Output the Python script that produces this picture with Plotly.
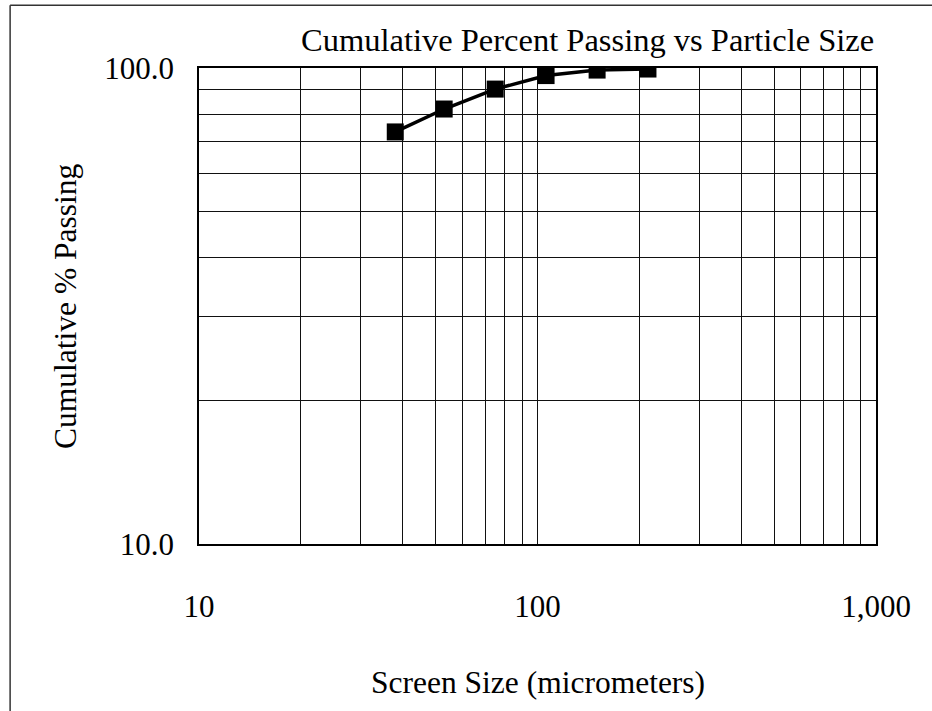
import plotly.graph_objects as go

# Data
screen_size_um = [38, 53, 75, 106, 150, 212]
cum_pct_passing = [73.4, 82.0, 90.3, 96.4, 99.0, 99.5]

x_tick_vals = [10, 20, 30, 40, 50, 60, 70, 80, 90, 100, 200, 300, 400, 500, 600, 700, 800, 900, 1000]
x_tick_text = ["10", "", "", "", "", "", "", "", "", "100", "", "", "", "", "", "", "", "", "1,000"]
y_tick_vals = [10, 20, 30, 40, 50, 60, 70, 80, 90, 100]
y_tick_text = ["10.0", "", "", "", "", "", "", "", "", "100.0"]

title_text = "Cumulative Percent Passing vs Particle Size"
x_title = "Screen Size (micrometers)"
y_title = "Cumulative % Passing"

FONT = "Liberation Serif, Times New Roman, serif"

fig = go.Figure()
fig.add_trace(go.Scatter(
    x=screen_size_um, y=cum_pct_passing,
    mode="lines+markers",
    line=dict(color="black", width=3.5),
    marker=dict(symbol="square", size=17, color="black"),
    showlegend=False,
))

fig.update_layout(
    width=932, height=711,
    margin=dict(l=199, r=56, t=68, b=167),
    paper_bgcolor="white", plot_bgcolor="white",
    font=dict(family=FONT, color="black", size=31),
    xaxis=dict(
        type="log", range=[1, 3],
        tickvals=x_tick_vals, ticktext=x_tick_text,
        showgrid=True, gridcolor="#111", gridwidth=1,
        showline=True, linecolor="black", linewidth=1.5, mirror=True,
        ticks="", ticklabelstandoff=34,
        tickfont=dict(size=31, family=FONT),
        zeroline=False,
    ),
    yaxis=dict(
        type="log", range=[1, 2],
        tickvals=y_tick_vals, ticktext=y_tick_text,
        showgrid=True, gridcolor="#111", gridwidth=1,
        showline=True, linecolor="black", linewidth=1.5, mirror=True,
        ticks="", ticklabelstandoff=17,
        tickfont=dict(size=31, family=FONT),
        zeroline=False,
    ),
    annotations=[
        dict(text=title_text, xref="paper", yref="paper", x=1.0, y=1.059,
             xanchor="right", yanchor="middle", showarrow=False,
             font=dict(size=32.5, family=FONT)),
        dict(text=x_title, xref="paper", yref="paper", x=0.5, y=-0.292,
             xanchor="center", yanchor="middle", showarrow=False,
             font=dict(size=31.5, family=FONT)),
        dict(text=y_title, xref="paper", yref="paper", x=-0.198, y=0.5,
             xanchor="center", yanchor="middle", showarrow=False, textangle=-90,
             font=dict(size=31.5, family=FONT)),
    ],
    shapes=[
        dict(type="line", xref="paper", yref="paper", x0=-0.279, x1=1.09, y0=1.132, y1=1.132,
             line=dict(color="#333", width=1.5)),
        dict(type="line", xref="paper", yref="paper", x0=-0.279, x1=-0.279, y0=1.132, y1=-0.36,
             line=dict(color="#333", width=1.5)),
    ],
)

fig.write_html("out.html", config={"displayModeBar": False},
               post_script="document.body.style.margin='0px';")
